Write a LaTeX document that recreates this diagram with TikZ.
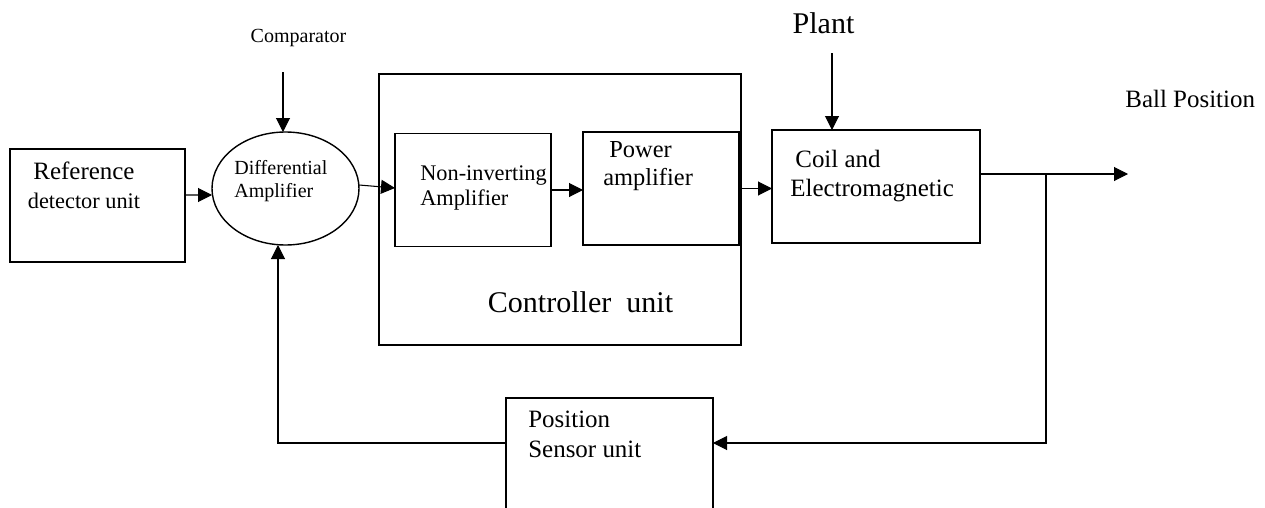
\documentclass[tikz,border=0pt]{standalone}
\usepackage{fontspec}
\setmainfont{Liberation Serif}
\usetikzlibrary{shapes.geometric, arrows.meta, positioning}

\begin{document}
\begin{tikzpicture}[
    blockbox/.style={draw=black, line width=0.8pt, minimum height=2.26cm, inner sep=0pt, outer sep=0pt},
    ampbox/.style={draw=black, line width=0.8pt, ellipse, minimum width=2.94cm, minimum height=2.26cm, inner sep=0pt, outer sep=0pt},
    boxtext/.style={inner sep=0pt, align=left, font=\fontsize{14.2}{16.5}\selectfont},
    arrow/.style={-{Triangle[length=2.8mm, width=2.8mm]}, line width=0.6pt, black}
]
\useasboundingbox (0,0) rectangle (25.3,-10.16);

% Forward path
\node (ref) [blockbox, minimum width=3.5cm] at (1.95,-4.11) {};
\node (diff) [ampbox, right=0.54cm of ref, yshift=0.34cm] {};
\node (ctrl) [blockbox, minimum width=7.24cm, minimum height=5.42cm, right=0.4cm of diff, yshift=-0.42cm] {};
\node (noninv) [blockbox, minimum width=3.12cm, right=0.72cm of diff, yshift=-0.03cm] {};
\node (power) [blockbox, minimum width=3.12cm, right=0.64cm of noninv, yshift=0.03cm] {};
\node (coil) [blockbox, minimum width=4.16cm, right=0.66cm of power, yshift=0.04cm] {};

% Feedback path
\node (sensor) [blockbox, minimum width=4.14cm, below=1.06cm of ctrl, xshift=0.99cm] {};

% Inputs and output
\node (cmp_in) [coordinate, above=1.2cm of diff.north, xshift=-0.05cm] {};
\node (plant_in) [coordinate, above=1.54cm of coil.north, xshift=-0.88cm] {};
\node (out_end) [coordinate, right=2.96cm of coil.east, yshift=0.25cm] {};
\node (branch) [coordinate, right=1.32cm of coil.east, yshift=0.25cm] {};

% Texts
\node (ref_txt) [boxtext, align=center, font=\fontsize{12.7}{16.5}\selectfont, below=0.25cm of ref.north, xshift=-0.27cm] {{\fontsize{14.2}{16.5}\selectfont Reference}\\detector unit};
\node (diff_txt) [boxtext, font=\fontsize{11.4}{13.1}\selectfont, below=0.57cm of diff.north, anchor=north west, xshift=-1.03cm] {Differential\\Amplifier};
\node (noninv_txt) [boxtext, font=\fontsize{12.7}{14.2}\selectfont, below right=0.63cm and 0.5cm of noninv.north west] {Non-inverting\\Amplifier};
\node (power_txt) [boxtext, font=\fontsize{13.9}{15.9}\selectfont, below right=0.19cm and 0.4cm of power.north west] {\hspace{0.12cm}Power\\amplifier};
\node (ctrl_txt) [boxtext, font=\fontsize{17.1}{20}\selectfont, above=0.63cm of ctrl.south, xshift=0.41cm] {Controller\ \ unit};
\node (coil_txt) [boxtext, below right=0.39cm and 0.36cm of coil.north west] {\hspace{0.1cm}Coil and\\Electromagnetic};
\node (sensor_txt) [boxtext, font=\fontsize{14.2}{17}\selectfont, below right=0.25cm and 0.44cm of sensor.north west] {Position\\Sensor unit};
\node (cmp_txt) [boxtext, font=\fontsize{11.4}{13.1}\selectfont, above=0.5cm of cmp_in, xshift=0.31cm] {Comparator};
\node (plant_txt) [boxtext, font=\fontsize{17.1}{20}\selectfont, above=0.37cm of plant_in, xshift=-0.17cm] {Plant};
\node (ball_txt) [boxtext, above=1.31cm of out_end, anchor=south west, xshift=-0.06cm] {Ball Position};

% Arrows
\draw [arrow] ([yshift=0.21cm]ref.east) -- ([yshift=-0.13cm]diff.west);
\draw [arrow] ([yshift=0.07cm]diff.east) -- ([yshift=0.04cm]noninv.west);
\draw [arrow] (noninv.east) -- (noninv.east -| power.west);
\draw [arrow] (power.east) -- (power.east -| coil.west);
\draw [arrow] (cmp_in) -- (cmp_in |- diff.north);
\draw [arrow] (plant_in) -- (plant_in |- coil.north);
\draw [arrow] (coil.east |- out_end) -- (out_end);
\draw [arrow] (branch) |- ([yshift=0.23cm]sensor.east);
\draw [arrow] ([yshift=0.23cm]sensor.west) -| ([xshift=-0.15cm]diff.south);

\end{tikzpicture}
\end{document}
